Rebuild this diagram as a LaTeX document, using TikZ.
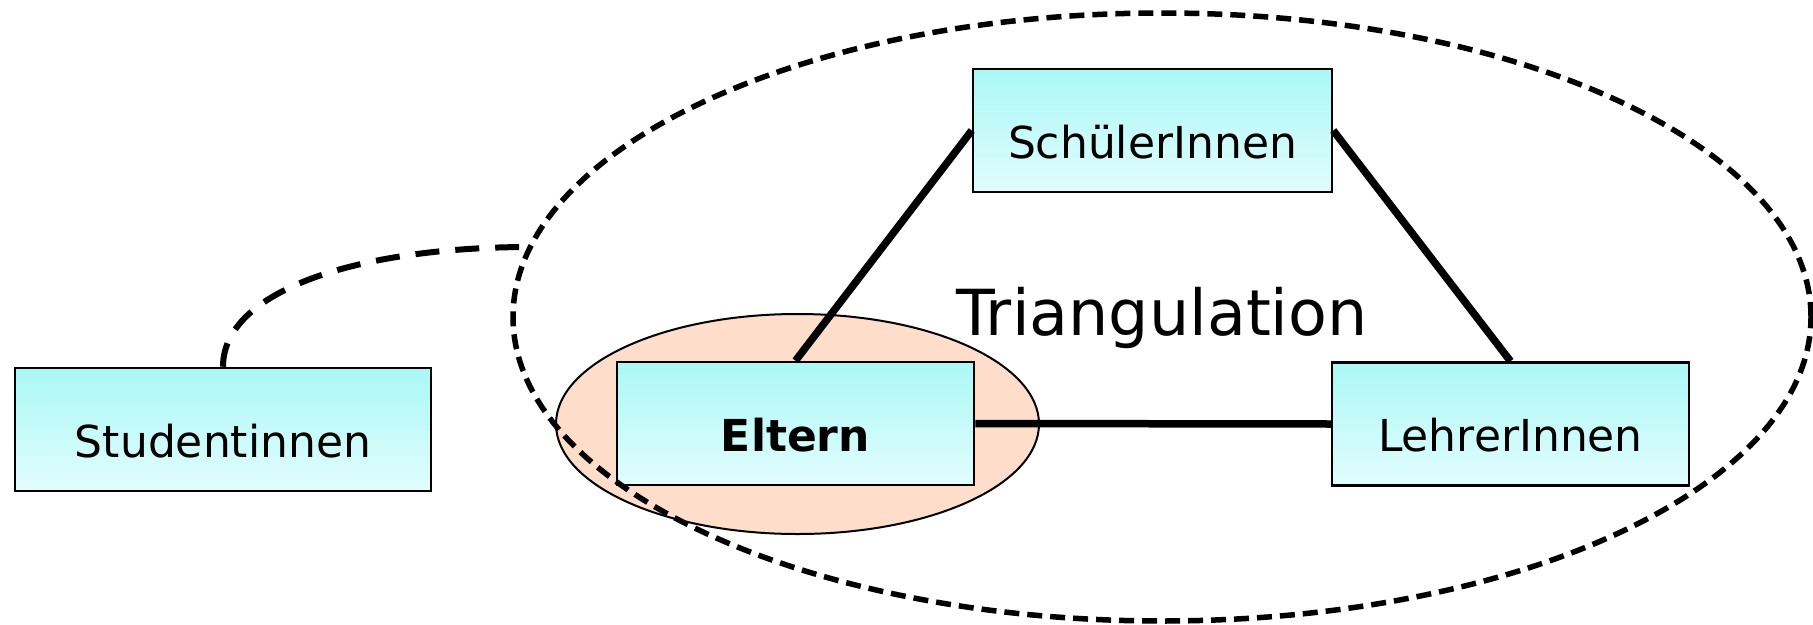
\documentclass[tikz,border=0pt]{standalone}
\usepackage{fontspec}
\setmainfont{DejaVu Sans}
\usetikzlibrary{shapes.geometric}
\definecolor{boxtop}{RGB}{170,248,246}
\definecolor{boxbot}{RGB}{226,253,253}
\definecolor{peach}{RGB}{254,222,203}
\tikzset{
  boxnode/.style={draw=black, line width=2.5pt, rectangle, top color=boxtop, bottom color=boxbot,
    minimum height=123pt, inner sep=0pt, text height=55pt, text depth=0pt,
    font=\fontsize{44}{50}\selectfont},
  conn/.style={line width=7.5pt},
  bigdash/.style={line width=5.5pt, dash pattern=on 15pt off 8pt},
  curvedash/.style={line width=6pt, dash pattern=on 24pt off 16pt}
}
\begin{document}
\begin{tikzpicture}[x=1pt,y=-1pt]
\useasboundingbox (0,0) rectangle (1813,624);
\node[ellipse, draw=black, line width=2pt, fill=peach, minimum width=483pt, minimum height=220pt, inner sep=0pt] (elell) at (797.5,424) {};
\node[boxnode, minimum width=416pt] (stud) at (223,429.5) {Studentinnen};
\node[boxnode, minimum width=357pt] (elt) at (795.5,423.5) {\bfseries Eltern};
\node[boxnode, minimum width=359pt] (sch) at (1152.5,130.5) {SchülerInnen};
\node[boxnode, minimum width=357pt] (leh) at (1510.5,424) {LehrerInnen};
\draw[conn] (sch.west) -- (elt.north);
\draw[conn] (sch.east) -- (leh.north);
\draw[conn] (elt.east) -- (leh.west);
\node[ellipse, bigdash, draw=black, minimum width=1298pt, minimum height=608pt, inner sep=0pt] (tri) at (1162,317) {};
\coordinate (cend) at (530,247);
\draw[curvedash] (stud.north) .. controls (223,290) and (360,247) .. (cend);
\node[anchor=base, font=\fontsize{63.5}{70}\selectfont, inner sep=0pt] (lab) at (1162,335) {Triangulation};
\end{tikzpicture}
\end{document}
